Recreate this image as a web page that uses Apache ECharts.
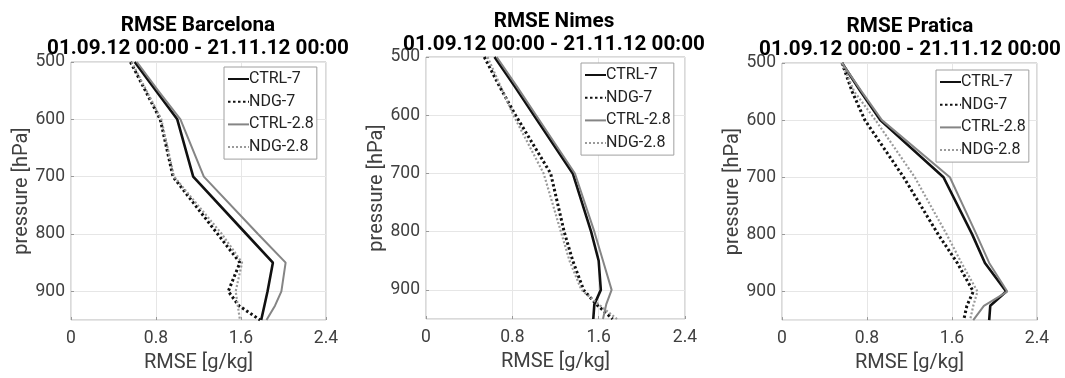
<!DOCTYPE html>
<html>
<head>
<meta charset="utf-8">
<script src="https://cdn.jsdelivr.net/npm/echarts@6/dist/echarts.min.js"></script>
<style>html,body{margin:0;padding:0;background:#fff}#c{width:1065px;height:378px}</style>
</head>
<body>
<div id="c"></div>
<script>
// pressure levels [hPa]
const levels = [500, 550, 600, 700, 800, 850, 900, 925, 950];
const seriesNames = ['CTRL-7', 'NDG-7', 'CTRL-2.8', 'NDG-2.8'];
const xTicks = [0, 0.8, 1.6, 2.4];
const yTicks = [500, 600, 700, 800, 900];
const stations = ['Barcelona', 'Nimes', 'Pratica'];
const period = '01.09.12 00:00 - 21.11.12 00:00';

// RMSE [g/kg] per station, per series
const barcelonaCTRL7  = [0.60, 0.80, 1.00, 1.15, 1.65, 1.90, 1.85, 1.82, 1.79];
const barcelonaNDG7   = [0.56, 0.70, 0.84, 0.96, 1.38, 1.59, 1.48, 1.58, 1.78];
const barcelonaCTRL28 = [0.62, 0.82, 1.03, 1.25, 1.76, 2.02, 1.98, 1.92, 1.84];
const barcelonaNDG28  = [0.57, 0.71, 0.85, 0.97, 1.42, 1.61, 1.55, 1.57, 1.59];

const nimesCTRL7  = [0.635, 0.82, 1.00, 1.36, 1.53, 1.60, 1.62, 1.56, 1.55];
const nimesNDG7   = [0.54, 0.68, 0.83, 1.155, 1.28, 1.36, 1.46, 1.58, 1.73];
const nimesCTRL28 = [0.655, 0.84, 1.02, 1.38, 1.56, 1.64, 1.72, 1.67, 1.64];
const nimesNDG28  = [0.57, 0.69, 0.81, 1.09, 1.25, 1.33, 1.44, 1.60, 1.77];

const praticaCTRL7  = [0.565, 0.74, 0.925, 1.52, 1.79, 1.91, 2.11, 1.96, 1.95];
const praticaNDG7   = [0.565, 0.66, 0.78, 1.145, 1.47, 1.65, 1.80, 1.74, 1.71];
const praticaCTRL28 = [0.565, 0.75, 0.94, 1.58, 1.83, 1.95, 2.12, 1.90, 1.80];
const praticaNDG28  = [0.565, 0.68, 0.88, 1.25, 1.55, 1.69, 1.84, 1.80, 1.77];

const stationData = [
  [barcelonaCTRL7, barcelonaNDG7, barcelonaCTRL28, barcelonaNDG28],
  [nimesCTRL7, nimesNDG7, nimesCTRL28, nimesNDG28],
  [praticaCTRL7, praticaNDG7, praticaCTRL28, praticaNDG28]
];

// layout
const grids = [
  {left: 71, top: 62, width: 255, height: 258},
  {left: 426, top: 57, width: 259, height: 262},
  {left: 782, top: 63, width: 255, height: 258}
];
const titlePos = [{x: 198, y: 15}, {x: 554, y: 11}, {x: 910, y: 16}];
const legendPos = [{x: 224, y: 67}, {x: 581, y: 63}, {x: 936, y: 70}];

const styles = [
  {color: '#111111', width: 2.6, type: 'solid'},
  {color: '#111111', width: 3, type: [2.5, 2.5]},
  {color: '#858585', width: 2, type: 'solid'},
  {color: '#9a9a9a', width: 2.2, type: [2, 2]}
];

const font = 'Roboto, "Liberation Sans", sans-serif';
const option = {
  backgroundColor: '#fff',
  animation: false,
  title: [], grid: [], xAxis: [], yAxis: [], legend: [], series: []
};

stations.forEach((st, g) => {
  option.title.push({
    text: 'RMSE ' + st + '\n' + period,
    left: titlePos[g].x, top: titlePos[g].y, textAlign: 'center', padding: 0,
    textStyle: {fontFamily: font, fontSize: 20.7, fontWeight: 'bold', color: '#000', lineHeight: 22.5}
  });
  option.grid.push(Object.assign({show: true, borderColor: '#b5b5b5', borderWidth: 1, backgroundColor: '#fff'}, grids[g]));
  option.xAxis.push({
    type: 'value', gridIndex: g, min: xTicks[0], max: xTicks[xTicks.length - 1], interval: 0.8,
    name: 'RMSE [g/kg]', nameLocation: 'middle', nameGap: 32,
    nameTextStyle: {fontFamily: font, fontSize: 20, color: '#404040'},
    axisLine: {show: false},
    axisTick: {show: true, inside: true, length: 3, lineStyle: {color: '#999'}},
    axisLabel: {fontFamily: font, fontSize: 17.5, color: '#404040', margin: 10,
      formatter: v => { const t = xTicks.find(k => Math.abs(k - v) < 1e-6); return t === undefined ? '' : String(t); }},
    splitLine: {show: true, lineStyle: {color: '#e6e6e6', width: 1}}
  });
  option.yAxis.push({
    type: 'value', gridIndex: g, min: 500, max: 950, interval: 100, inverse: true,
    name: 'pressure [hPa]', nameLocation: 'middle', nameGap: 31,
    nameTextStyle: {fontFamily: font, fontSize: 20, color: '#404040'},
    axisLine: {show: false},
    axisTick: {show: true, inside: true, length: 3, lineStyle: {color: '#999'}},
    axisLabel: {fontFamily: font, fontSize: 17.5, color: '#404040', margin: 6, showMaxLabel: false,
      formatter: v => yTicks.indexOf(v) >= 0 ? String(v) : ''},
    splitLine: {show: true, lineStyle: {color: '#e6e6e6', width: 1}}
  });
  option.legend.push({
    orient: 'vertical', left: legendPos[g].x, top: legendPos[g].y,
    data: seriesNames, itemWidth: 21, itemHeight: 14, itemGap: 6.7,
    padding: [4, 3, 4, 3], borderColor: '#a0a0a0', borderWidth: 1, backgroundColor: '#fff',
    selectedMode: false,
    itemStyle: {color: 'rgba(0,0,0,0)', borderColor: 'rgba(0,0,0,0)', borderWidth: 0, opacity: 0},
    textStyle: {fontFamily: font, fontSize: 16, color: '#222', padding: [0, 0, 0, -5]}
  });
  seriesNames.forEach((nm, s) => {
    option.series.push({
      name: nm, type: 'line', xAxisIndex: g, yAxisIndex: g,
      showSymbol: false, symbol: 'none', smooth: false, z: 2 + s,
      lineStyle: {color: styles[s].color, width: styles[s].width, type: styles[s].type},
      itemStyle: {color: styles[s].color},
      data: levels.map((p, i) => [stationData[g][s][i], p])
    });
  });
});

const chart = echarts.init(document.getElementById('c'), null, {renderer: 'canvas'});
chart.setOption(option);
</script>
</body>
</html>
